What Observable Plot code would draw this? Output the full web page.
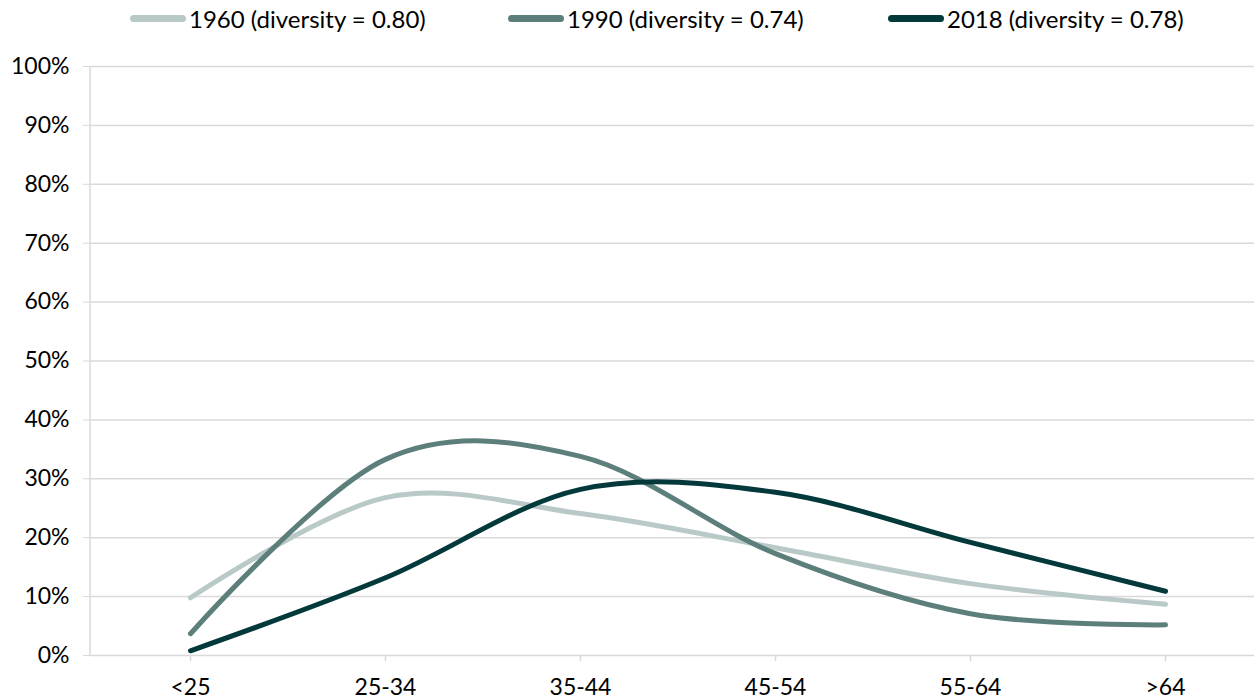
<!DOCTYPE html>
<html>
<head>
<meta charset="utf-8">
<script src="https://cdn.jsdelivr.net/npm/d3@7"></script>
<script src="https://cdn.jsdelivr.net/npm/@observablehq/plot@0.6"></script>
<style>
  body { margin: 0; background: #fff; font-family: Lato, "Open Sans", sans-serif; }
  #legend { position: relative; height: 45px; width: 1254px; }
  .item { position: absolute; top: 4px; display: flex; align-items: center; font-size: 24px; color: #000; }
  .sw { width: 56px; height: 7px; border-radius: 4px; margin-right: 3px; }
</style>
</head>
<body>
<div id="legend"></div>
<div id="chart"></div>
<script>
const ageGroups = ["<25", "25-34", "35-44", "45-54", "55-64", ">64"];
const seriesNames = ["1960 (diversity = 0.80)", "1990 (diversity = 0.74)", "2018 (diversity = 0.78)"];
const values1960 = [9.8, 26.8, 24.1, 18.3, 12.2, 8.7];
const values1990 = [3.7, 33.3, 33.8, 17.3, 7.1, 5.2];
const values2018 = [0.8, 13.2, 28.2, 27.7, 19.2, 10.9];
const seriesColors = ["#b9c9c7", "#5d7f7c", "#03393a"];
const yTicks = [0, 10, 20, 30, 40, 50, 60, 70, 80, 90, 100];

const allValues = [values1960, values1990, values2018];
const data = [];
seriesNames.forEach((s, i) => {
  ageGroups.forEach((g, j) => data.push({series: s, age: g, value: allValues[i][j]}));
});

// legend
const legendX = [130, 508, 888];
const legend = document.getElementById("legend");
seriesNames.forEach((s, i) => {
  const it = document.createElement("div");
  it.className = "item";
  it.style.left = legendX[i] + "px";
  it.innerHTML = `<span class="sw" style="background:${seriesColors[i]}"></span><span>${s}</span>`;
  legend.appendChild(it);
});

const chart = Plot.plot({
  width: 1254,
  height: 655,
  marginLeft: 90,
  marginRight: 0,
  marginTop: 21,
  marginBottom: 45,
  style: { fontFamily: "Lato, 'Open Sans', sans-serif", fontSize: "23px", color: "#000" },
  x: { type: "point", domain: ageGroups, range: [189, 1166], padding: 0 },
  y: { domain: [0, 100] },
  color: { domain: seriesNames, range: seriesColors },
  marks: [
    Plot.ruleY(yTicks, { stroke: "#d9d9d9", strokeWidth: 1.5 }),
    Plot.axisY({ ticks: yTicks, tickFormat: d => d + "%", tickSize: 7, tickPadding: 14, stroke: "#d9d9d9", label: null, fontSize: 23 }),
    Plot.axisX({ tickSize: 6, tickPadding: 17, stroke: "#d9d9d9", strokeWidth: 1.5, label: null, fontSize: 23 }),
    Plot.line(data, { x: "age", y: "value", z: "series", stroke: "series", strokeWidth: 5, curve: "cardinal", tension: 0, strokeLinecap: "round" })
  ]
});
document.getElementById("chart").appendChild(chart);
// vertical axis line
d3.select(chart).insert("line", ":first-child")
  .attr("x1", 90).attr("x2", 90).attr("y1", 21).attr("y2", 610)
  .attr("stroke", "#d9d9d9").attr("stroke-width", 1.5);
</script>
</body>
</html>
